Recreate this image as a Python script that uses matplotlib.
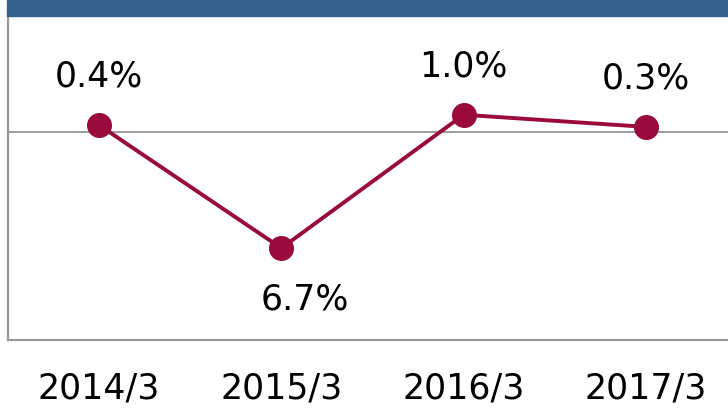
import matplotlib.pyplot as plt
from matplotlib.patches import Rectangle

plt.rcParams['font.family'] = ['DejaVu Sans']

periods = ['2014/3', '2015/3', '2016/3', '2017/3']
growth = [0.4, -6.7, 1.0, 0.3]
labels = ['0.4%', '6.7%', '1.0%', '0.3%']

line_color = '#9A0A3C'
header_color = '#36618F'

fig = plt.figure(figsize=(7.28, 4.08), dpi=100)

# header strip (title text is cut off in the source)
fig.patches.append(Rectangle((7 / 728, 392 / 408), 1, 16 / 408,
                             transform=fig.transFigure, color=header_color, zorder=0))

ax = fig.add_axes([8 / 728, 68 / 408, 729 / 728, 324 / 408])
x = list(range(len(periods)))
ax.plot(x, growth, color=line_color, lw=2.8, marker='o', ms=17, zorder=3)
ax.axhline(0, color='#8c8c8c', lw=1.2, zorder=1)

for i, (v, s) in enumerate(zip(growth, labels)):
    if v >= 0:
        ax.annotate(s, (i, v), xytext=(0, 35), textcoords='offset points',
                    ha='center', va='center', fontsize=25)
    else:
        # label sits below and slightly right of the dip
        ax.annotate(s, (i, v), xytext=(17, -37), textcoords='offset points',
                    ha='center', va='center', fontsize=25)

ax.set_xlim(-0.5, 3.5)
ax.set_ylim(-12, 6.7)
ax.set_xticks(x)
ax.set_xticklabels(periods, fontsize=25)
ax.tick_params(axis='x', length=0, pad=23)
ax.set_yticks([])
for side in ['top', 'right']:
    ax.spines[side].set_visible(False)
for side in ['left', 'bottom']:
    ax.spines[side].set_color('#999999')
    ax.spines[side].set_linewidth(1.6)

fig.savefig('out.png', dpi=100)
